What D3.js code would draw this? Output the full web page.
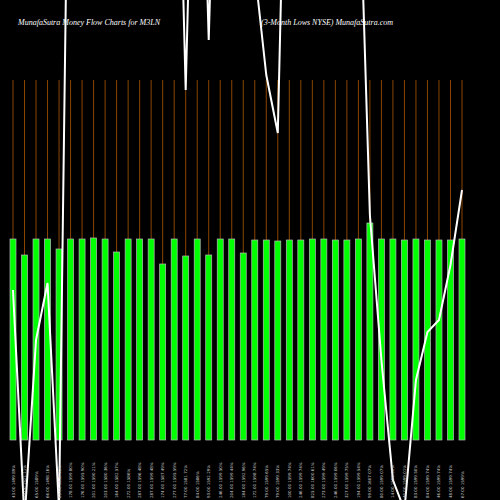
<!DOCTYPE html>
<html>
<head>
<script src="https://d3js.org/d3.v7.min.js"></script>
<style>body{margin:0;background:#000}</style>
</head>
<body>
<div id="chart"></div>
<script>
const width = 500, height = 500;
const base = 440;

const barValues = [201,185,201,201,191,201,201,202,201,188,201,201,201,176,201,184,201,185,201,201,187,
                   200,200,199,200,200,201,201,200,200,201,217,201,201,200,201,200,200,200,201];
const lineValues = [150,-80,100,157,-70,800,800,800,800,800,800,800,800,800,800,350,800,400,800,800,800,
                    470,365,307,800,800,800,800,800,800,600,225,80,-40,-70,60,108,120,175,250];
const labels = ["43.00 1499.89%","55.00 1521.11%","65.00 1589%","66.00 1498.16%","69.00 1518.22%",
  "178.00 1599.80%","176.00 1595.90%","201.00 1590.21%","203.00 1580.36%","164.00 1582.57%",
  "272.00 1586%","287.00 1596.48%","287.00 1599.48%","174.00 1587.49%","277.00 1595.59%",
  "77.00 1581.72%","84.00 1586%","93.00 1592.29%","246.00 1599.50%","204.00 1599.44%",
  "184.00 1592.96%","172.00 1598.74%","79.00 1599.65%","79.00 1599.33%","100.00 1599.74%",
  "246.00 1599.74%","825.00 1600.61%","273.00 1599.49%","246.00 1599.06%","327.00 1599.75%",
  "194.00 1599.54%","99.00 1607.07%","80.00 1599.07%","14.00 1599.90%","40.00 1599.01%",
  "83.00 1599.50%","84.00 1599.74%","46.00 1599.74%","48.00 1599.74%","67.00 1599%"];

const x = d3.scaleLinear().domain([0, barValues.length - 1]).range([13, 462]);
const y = d3.scaleLinear().domain([0, 100]).range([base, base - 100]);

const svg = d3.select("#chart").append("svg")
  .attr("width", width).attr("height", height)
  .style("background", "#000");

svg.selectAll(".stem").data(barValues).enter().append("line")
  .attr("x1", (d, i) => x(i)).attr("x2", (d, i) => x(i))
  .attr("y1", 80).attr("y2", d => y(d))
  .attr("stroke", "#8a4500").attr("stroke-width", 1);

svg.selectAll(".bar").data(barValues).enter().append("rect")
  .attr("x", (d, i) => x(i) - 3).attr("width", 6)
  .attr("y", d => y(d)).attr("height", d => base - y(d))
  .attr("fill", "#00ff00").attr("stroke", "#bbbbbb").attr("stroke-width", 0.7);

svg.append("path").datum(lineValues)
  .attr("fill", "none").attr("stroke", "#fff").attr("stroke-width", 2)
  .attr("d", d3.line().x((d, i) => x(i)).y(d => y(d)));

svg.selectAll(".lbl").data(labels).enter().append("text")
  .attr("transform", (d, i) => `translate(${x(i) + 1.5},498) rotate(-90)`)
  .attr("fill", "#ccc").attr("font-size", 4).attr("font-family", "DejaVu Sans")
  .text(d => d);

svg.append("text").attr("x", 18).attr("y", 25)
  .attr("fill", "#fff").attr("font-size", 8).attr("font-style", "italic")
  .attr("font-family", "Liberation Serif")
  .text("MunafaSutra  Money Flow  Charts for M3LN");
svg.append("text").attr("x", 261).attr("y", 25)
  .attr("fill", "#fff").attr("font-size", 8).attr("font-style", "italic")
  .attr("font-family", "Liberation Serif")
  .text("(3-Month  Lows NYSE) MunafaSutra.com");
</script>
</body>
</html>
